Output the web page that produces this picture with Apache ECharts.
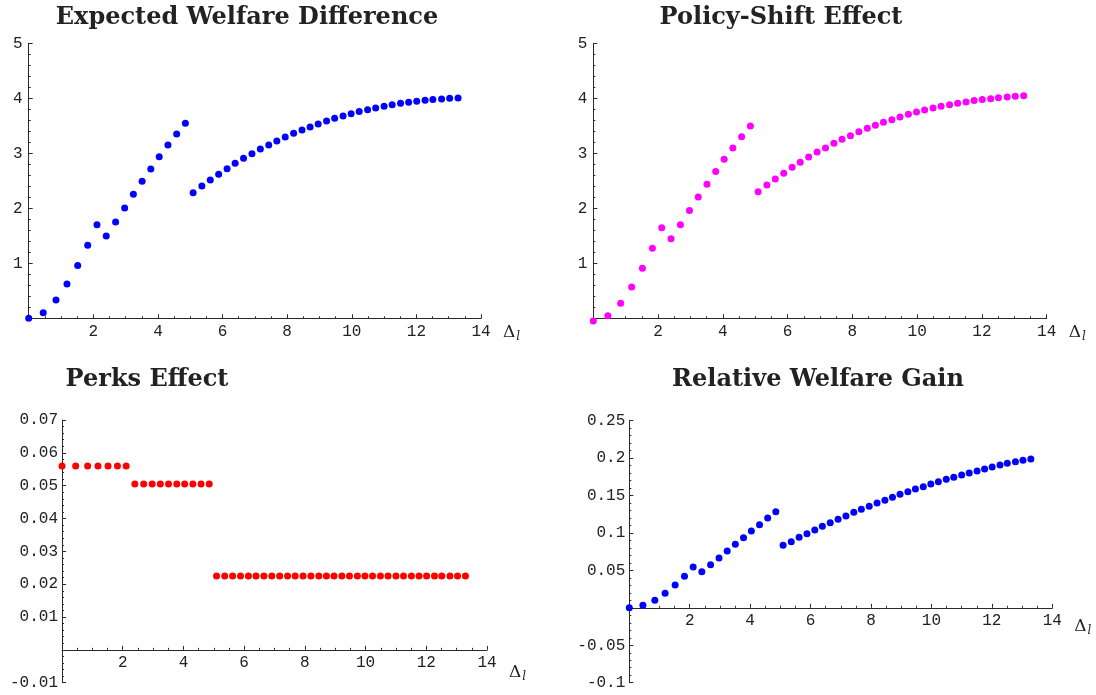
<!DOCTYPE html>
<html>
<head>
<meta charset="utf-8">
<script src="https://cdn.jsdelivr.net/npm/echarts@6/dist/echarts.min.js"></script>
<style>
  html, body { margin: 0; padding: 0; background: #ffffff; }
  #chart { width: 1096px; height: 695px; }
</style>
</head>
<body>
<div id="chart"></div>
<script>
// ---- data ----
const deltaL = [0, 0.45, 0.845, 1.185, 1.517, 1.826, 2.114, 2.40, 2.69, 2.97, 3.24, 3.51, 3.78, 4.04, 4.31, 4.58, 4.85,
  5.09, 5.36, 5.62, 5.88, 6.14, 6.39, 6.65, 6.91, 7.17, 7.43, 7.68, 7.94, 8.20, 8.46, 8.71, 8.96, 9.22, 9.47, 9.73, 9.98,
  10.23, 10.49, 10.74, 11.00, 11.25, 11.51, 11.76, 12.01, 12.27, 12.51, 12.78, 13.03, 13.29];

const expectedWelfare = [0, 0.103, 0.333, 0.624, 0.958, 1.327, 1.703, 1.497, 1.751, 2.006, 2.255, 2.491, 2.715, 2.939, 3.152, 3.352, 3.545,
  2.285, 2.406, 2.515, 2.618, 2.721, 2.818, 2.909, 2.994, 3.079, 3.152, 3.224, 3.297, 3.364, 3.424, 3.479, 3.533, 3.588, 3.636, 3.679,
  3.721, 3.758, 3.794, 3.824, 3.855, 3.885, 3.909, 3.927, 3.945, 3.964, 3.976, 3.988, 4.0, 4.006];

const policyShift = [-0.05, 0.048, 0.273, 0.570, 0.909, 1.273, 1.648, 1.448, 1.703, 1.958, 2.206, 2.436, 2.667, 2.891, 3.097, 3.303, 3.497,
  2.303, 2.424, 2.533, 2.636, 2.745, 2.836, 2.933, 3.024, 3.097, 3.182, 3.255, 3.321, 3.394, 3.455, 3.509, 3.564, 3.612, 3.661, 3.709,
  3.752, 3.788, 3.824, 3.855, 3.885, 3.909, 3.933, 3.958, 3.976, 3.994, 4.012, 4.024, 4.036, 4.048];

const perksEffect = [0.056, 0.056, 0.056, 0.056, 0.056, 0.056, 0.056,
  0.0505, 0.0505, 0.0505, 0.0505, 0.0505, 0.0505, 0.0505, 0.0505, 0.0505, 0.0505,
  0.0225, 0.0225, 0.0225, 0.0225, 0.0225, 0.0225, 0.0225, 0.0225, 0.0225, 0.0225, 0.0225,
  0.0225, 0.0225, 0.0225, 0.0225, 0.0225, 0.0225, 0.0225, 0.0225, 0.0225, 0.0225, 0.0225,
  0.0225, 0.0225, 0.0225, 0.0225, 0.0225, 0.0225, 0.0225, 0.0225, 0.0225, 0.0225, 0.0225];

const relativeGain = [0, 0.0033, 0.010, 0.0194, 0.0305, 0.0421, 0.0545, 0.0483, 0.0577, 0.0666, 0.0759, 0.0848, 0.0937, 0.1026, 0.1111, 0.1200, 0.1285,
  0.0835, 0.0884, 0.0942, 0.0991, 0.1040, 0.1089, 0.1138, 0.1182, 0.1227, 0.1276, 0.1316, 0.1356, 0.1400, 0.1436, 0.1476, 0.1516,
  0.1552, 0.1587, 0.1619, 0.1654, 0.1685, 0.1717, 0.1743, 0.1774, 0.1801, 0.1828, 0.1855, 0.1881, 0.1908, 0.1930, 0.1953, 0.1970, 0.1988];

const xTicks = [0, 2, 4, 6, 8, 10, 12, 14];
const welfareTicks = [0, 1, 2, 3, 4, 5];
const perksTicks = [-0.01, 0, 0.01, 0.02, 0.03, 0.04, 0.05, 0.06, 0.07];
const relativeTicks = [-0.1, -0.05, 0, 0.05, 0.1, 0.15, 0.2, 0.25];

const titles = ['Expected Welfare Difference', 'Policy-Shift Effect', 'Perks Effect', 'Relative Welfare Gain'];
const xName = '{d|\u0394}{s|l}';

// ---- layout ----
const grids = [
  { left: 28.7, top: 43.3, width: 452.3, height: 275 },
  { left: 593.3, top: 43.3, width: 453.4, height: 275 },
  { left: 62, top: 420, width: 425, height: 262.7 },
  { left: 629.3, top: 420.7, width: 423, height: 262 }
];
const yTickSets = [welfareTicks, welfareTicks, perksTicks, relativeTicks];

const AX = '#2a2a2a';
const LBL = '#222';
const MONO = '"Liberation Mono", "DejaVu Sans Mono", monospace';

function pairs(ys) { return deltaL.map((x, i) => [x, ys[i]]); }
function step(t) { return Math.round((t[1] - t[0]) * 1e6) / 1e6; }
function fmt(v) { return Math.abs(v) < 1e-9 ? '' : String(v); }

// x axis sits on y = 0: shift it up from the grid bottom by the scale's zero position
function zeroOffset(gi) {
  const t = yTickSets[gi];
  const lo = t[0], hi = t[t.length - 1];
  const frac = lo < 0 ? (0 - lo) / (hi - lo) : 0;
  return -frac * grids[gi].height;
}

function xAxisFor(gi, nameTop) {
  return {
    type: 'value', gridIndex: gi, position: 'bottom', offset: zeroOffset(gi),
    min: xTicks[0], max: xTicks[xTicks.length - 1], interval: step(xTicks),
    axisLine: { show: true, onZero: false, lineStyle: { color: AX, width: 1 } },
    axisTick: { show: true, inside: true, length: 4, lineStyle: { color: AX, width: 1 } },
    minorTick: { show: true, splitNumber: 4, length: 2, lineStyle: { color: AX, width: 1 } },
    splitLine: { show: false }, minorSplitLine: { show: false },
    axisLabel: { margin: 5, color: LBL, fontFamily: MONO, fontSize: 16, formatter: fmt },
    name: xName, nameLocation: 'end', nameGap: 22,
    nameTextStyle: {
      verticalAlign: 'top', align: 'left', padding: [nameTop, 0, 0, 0],
      rich: {
        d: { fontFamily: '"DejaVu Serif", serif', fontSize: 17, color: '#222' },
        s: { fontFamily: '"DejaVu Serif", serif', fontSize: 12, fontStyle: 'italic', color: '#222', padding: [9, 0, 0, 1] }
      }
    }
  };
}

function yAxisFor(gi, margin) {
  const ticks = yTickSets[gi];
  return {
    type: 'value', gridIndex: gi,
    min: ticks[0], max: ticks[ticks.length - 1], interval: step(ticks),
    axisLine: { show: true, onZero: false, lineStyle: { color: AX, width: 1 } },
    axisTick: { show: true, inside: true, length: 4, lineStyle: { color: AX, width: 1 } },
    minorTick: { show: true, splitNumber: 5, length: 2, lineStyle: { color: AX, width: 1 } },
    splitLine: { show: false }, minorSplitLine: { show: false },
    axisLabel: { margin: margin, color: LBL, fontFamily: MONO, fontSize: 16, formatter: fmt }
  };
}

function scatter(gi, ys, color) {
  return {
    type: 'scatter', xAxisIndex: gi, yAxisIndex: gi,
    data: pairs(ys), symbol: 'circle', symbolSize: 7, clip: false,
    itemStyle: { color: color, opacity: 1 },
    emphasis: { disabled: true }, animation: false
  };
}

const chart = echarts.init(document.getElementById('chart'), null, { renderer: 'canvas' });
const titleFont = 'bold 24px "DejaVu Serif", serif';
function titleText(i, x, y) {
  return { type: 'text', x: x, y: y, style: { text: titles[i], font: titleFont, fill: '#222', align: 'center', verticalAlign: 'middle' } };
}

chart.setOption({
  animation: false,
  backgroundColor: '#ffffff',
  grid: grids.map(g => Object.assign({ outerBoundsMode: 'none', containLabel: false }, g)),
  xAxis: [xAxisFor(0, 4), xAxisFor(1, 4), xAxisFor(2, 12), xAxisFor(3, 8)],
  yAxis: [yAxisFor(0, 6), yAxisFor(1, 6), yAxisFor(2, 4), yAxisFor(3, 4)],
  series: [
    scatter(0, expectedWelfare, '#0000ff'),
    scatter(1, policyShift, '#ff00ff'),
    scatter(2, perksEffect, '#ff0000'),
    scatter(3, relativeGain, '#0000ff')
  ],
  graphic: [
    titleText(0, 247, 18),
    titleText(1, 781, 18),
    titleText(2, 147, 380),
    titleText(3, 818, 380)
  ]
});
</script>
</body>
</html>
